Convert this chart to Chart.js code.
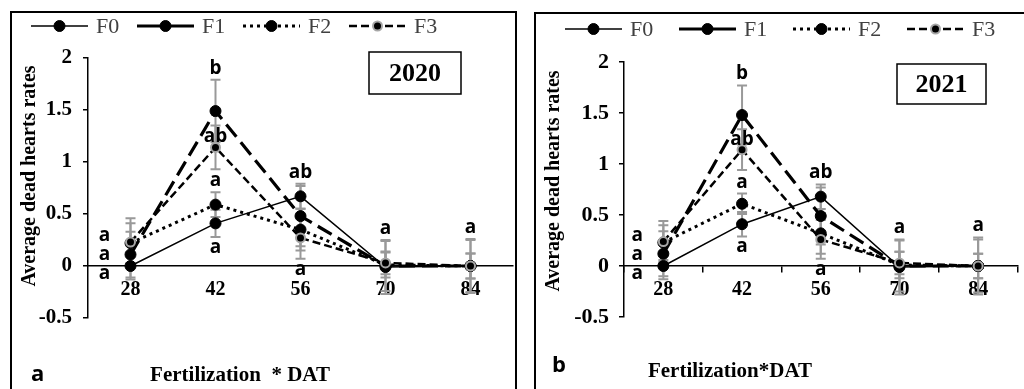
<!DOCTYPE html>
<html>
<head>
<meta charset="utf-8">
<script src="https://cdn.jsdelivr.net/npm/chart.js@4.4.0/dist/chart.umd.min.js"></script>
<style>
  html, body { margin: 0; padding: 0; background: #fff; width: 1024px; height: 389px; overflow: hidden; }
  .frame { position: absolute; box-sizing: border-box; border: 2px solid #000; }
  canvas { position: absolute; top: 0; }
</style>
</head>
<body>
<div class="frame" style="left:10px;top:11px;width:507px;height:420px"></div>
<div class="frame" style="left:534px;top:12px;width:540px;height:420px"></div>
<canvas id="chart2020" width="520" height="389" style="left:0"></canvas>
<canvas id="chart2021" width="504" height="389" style="left:520px"></canvas>
<script>
// days after transplanting
const days = ['28', '42', '56', '70', '84'];
const seriesNames = ['F0', 'F1', 'F2', 'F3'];

// 2020 means
const f0_2020 = [0, 0.41, 0.67, -0.01, 0];
const f1_2020 = [0.11, 1.49, 0.48, 0, 0];
const f2_2020 = [0.22, 0.59, 0.35, 0.01, 0];
const f3_2020 = [0.23, 1.14, 0.27, 0.03, 0];
// 2020 error bars
const e0_2020 = [0.13, 0.13, 0.12, 0.26, 0.26];
const e1_2020 = [0.22, 0.30, 0.29, 0.24, 0.25];
const e2_2020 = [0.19, 0.12, 0.20, 0.12, 0.12];
const e3_2020 = [0.23, 0.21, 0.20, 0.11, 0.12];

// 2021 means
const f0_2021 = [0, 0.41, 0.68, -0.01, 0];
const f1_2021 = [0.12, 1.48, 0.49, 0, 0];
const f2_2021 = [0.23, 0.61, 0.32, 0.01, 0];
const f3_2021 = [0.24, 1.14, 0.26, 0.03, 0];
// 2021 error bars
const e0_2021 = [0.13, 0.12, 0.12, 0.27, 0.28];
const e1_2021 = [0.22, 0.29, 0.28, 0.25, 0.26];
const e2_2021 = [0.17, 0.10, 0.20, 0.13, 0.12];
const e3_2021 = [0.20, 0.20, 0.19, 0.11, 0.12];

// significance letters: text, day index, series index, placement
const letters = [
  ['a', 0, 3, 'left2'],
  ['a', 0, 1, 'left1'],
  ['a', 0, 0, 'left0'],
  ['b', 1, 1, 'aboveBar'],
  ['ab', 1, 3, 'abovePoint'],
  ['a', 1, 2, 'aboveBar'],
  ['a', 1, 0, 'belowBar'],
  ['ab', 2, 0, 'aboveBar'],
  ['a', 2, 3, 'belowBar'],
  ['a', 3, 0, 'aboveBar'],
  ['a', 4, 0, 'aboveBar']
];

const SERIF = '"Liberation Serif", "Times New Roman", serif';
const SANS = '"Open Sans", sans-serif';

const lineStyles = [
  { width: 1.5, dash: [], legendDash: [], radius: 5.5, fill: '#000', ring: '#000', ringW: 1 },
  { width: 3.2, dash: [16, 7], legendDash: [24, 9], radius: 5.5, fill: '#000', ring: '#000', ringW: 1 },
  { width: 3, dash: [3, 4], legendDash: [3, 4], radius: 5.5, fill: '#000', ring: '#000', ringW: 1 },
  { width: 2.5, dash: [8, 4], legendDash: [8, 4], radius: 4.5, fill: '#000', ring: '#a6a6a6', ringW: 2 }
];

const decor = {
  id: 'decor',
  beforeDatasetsDraw(chart, args, o) {
    const ctx = chart.ctx, xs = chart.scales.x, ys = chart.scales.y;
    ctx.save();
    ctx.strokeStyle = '#999';
    ctx.lineWidth = 2;
    o.values.forEach((vals, s) => {
      vals.forEach((v, i) => {
        const x = xs.getPixelForValue(i);
        const t = ys.getPixelForValue(v + o.errors[s][i]);
        const b = ys.getPixelForValue(v - o.errors[s][i]);
        ctx.beginPath();
        ctx.moveTo(x, t); ctx.lineTo(x, b);
        ctx.moveTo(x - 5, t); ctx.lineTo(x + 5, t);
        ctx.moveTo(x - 5, b); ctx.lineTo(x + 5, b);
        ctx.stroke();
      });
    });
    ctx.restore();
  },
  afterDraw(chart, args, o) {
    const ctx = chart.ctx, xs = chart.scales.x, ys = chart.scales.y;
    ctx.save();

    // legend
    seriesNames.forEach((name, s) => {
      const st = lineStyles[s];
      const x = o.legendX + s * o.legendStep, y = o.legendY;
      ctx.strokeStyle = '#000';
      ctx.lineWidth = st.width;
      ctx.setLineDash(st.legendDash);
      ctx.beginPath(); ctx.moveTo(x, y); ctx.lineTo(x + 57, y); ctx.stroke();
      ctx.setLineDash([]);
      ctx.beginPath(); ctx.arc(x + 28.5, y, st.radius, 0, Math.PI * 2);
      ctx.fillStyle = st.fill; ctx.fill();
      ctx.lineWidth = st.ringW; ctx.strokeStyle = st.ring; ctx.stroke();
      ctx.fillStyle = '#404040';
      ctx.font = '22px ' + SERIF;
      ctx.textAlign = 'left'; ctx.textBaseline = 'middle';
      ctx.fillText(name, x + 65, y + 1);
    });

    // year box
    const [bx, by, bw, bh] = o.yearBox;
    ctx.strokeStyle = '#000'; ctx.lineWidth = 1.5;
    ctx.strokeRect(bx, by, bw, bh);
    ctx.fillStyle = '#000';
    ctx.font = 'bold 26px ' + SERIF;
    ctx.textAlign = 'center'; ctx.textBaseline = 'middle';
    ctx.fillText(o.year, bx + bw / 2, by + bh / 2 + 1);

    // axis titles
    ctx.font = 'bold 20px ' + SERIF;
    ctx.save();
    ctx.translate(o.yTitle[0], o.yTitle[1]);
    ctx.rotate(-Math.PI / 2);
    ctx.fillText('Average dead hearts rates', 0, 0);
    ctx.restore();
    ctx.font = 'bold 21px ' + SERIF;
    ctx.textBaseline = 'alphabetic';
    ctx.fillText(o.xTitle, o.xTitlePos[0], o.xTitlePos[1]);

    // panel letter
    ctx.font = 'bold 22px ' + SANS;
    ctx.textAlign = 'left';
    ctx.fillText(o.panel, o.panelPos[0], o.panelPos[1]);

    // significance letters
    ctx.font = 'bold 19px ' + SANS;
    ctx.textAlign = 'center';
    const y0 = ys.getPixelForValue(0);
    letters.forEach(([txt, i, s, place]) => {
      const v = o.values[s][i], e = o.errors[s][i];
      let x = xs.getPixelForValue(i), y;
      ctx.textBaseline = 'alphabetic';
      if (place === 'aboveBar') y = ys.getPixelForValue(v + e) - 6;
      else if (place === 'abovePoint') y = ys.getPixelForValue(v) - 5;
      else if (place === 'belowBar') y = ys.getPixelForValue(v - e) + 16;
      else {
        const k = +place.slice(4);
        x -= 26;
        ctx.textBaseline = 'middle';
        y = y0 + 8 - k * 19;
      }
      ctx.fillText(txt, x, y);
    });
    ctx.restore();
  }
};

function makeChart(id, values, errors, cfg) {
  new Chart(document.getElementById(id), {
    type: 'line',
    data: {
      labels: days,
      datasets: values.map((vals, s) => ({
        label: seriesNames[s],
        data: vals,
        borderColor: '#000',
        borderWidth: lineStyles[s].width,
        borderDash: lineStyles[s].dash,
        pointRadius: lineStyles[s].radius,
        pointBackgroundColor: lineStyles[s].fill,
        pointBorderColor: lineStyles[s].ring,
        pointBorderWidth: lineStyles[s].ringW,
        tension: 0,
        fill: false,
        order: 3 - s
      }))
    },
    options: {
      responsive: false,
      animation: false,
      devicePixelRatio: 1,
      layout: { padding: { left: 0, top: cfg.top, right: cfg.right, bottom: cfg.bottom } },
      plugins: {
        legend: { display: false },
        tooltip: { enabled: false },
        decor: Object.assign({ values, errors }, cfg)
      },
      scales: {
        y: {
          min: -0.5, max: 2,
          afterFit: s => { s.width = cfg.yAxisWidth; },
          ticks: {
            stepSize: 0.5, color: '#000', padding: cfg.yPad,
            font: { family: SERIF, size: cfg.yTickSize, weight: 'bold' },
            callback: v => String(v)
          },
          grid: { drawOnChartArea: false, drawTicks: true, tickLength: 5, color: '#000', lineWidth: 1.5 },
          border: { color: '#000', width: 1.5 }
        },
        x: {
          type: 'category', offset: true, position: { y: 0 },
          ticks: {
            color: '#000', padding: cfg.xPad, maxRotation: 0, autoSkip: false,
            font: { family: SERIF, size: 20, weight: 'bold' }
          },
          grid: { offset: true, drawOnChartArea: false, drawTicks: cfg.xTicks, tickLength: 6, color: '#000', lineWidth: 1.5 },
          border: { color: '#000', width: 1.5 }
        }
      }
    },
    plugins: [decor]
  });
}

makeChart('chart2020',
  [f0_2020, f1_2020, f2_2020, f3_2020],
  [e0_2020, e1_2020, e2_2020, e3_2020],
  {
    year: '2020', panel: 'a', xTitle: 'Fertilization  * DAT',
    top: 58, bottom: 71, right: 7, yAxisWidth: 88, yPad: 11, yTickSize: 21,
    xPad: 12, xTicks: false,
    legendX: 31, legendStep: 106, legendY: 26,
    yearBox: [369, 52, 92, 42],
    yTitle: [30, 176], xTitlePos: [240, 381], panelPos: [31, 381]
  });

makeChart('chart2021',
  [f0_2021, f1_2021, f2_2021, f3_2021],
  [e0_2021, e1_2021, e2_2021, e3_2021],
  {
    year: '2021', panel: 'b', xTitle: 'Fertilization*DAT',
    top: 62, bottom: 72, right: 2, yAxisWidth: 104, yPad: 10, yTickSize: 22,
    xPad: 6, xTicks: true,
    legendX: 45, legendStep: 114, legendY: 29,
    yearBox: [377, 64, 89, 40],
    yTitle: [34, 181], xTitlePos: [210, 377], panelPos: [32, 372]
  });
</script>
</body>
</html>
